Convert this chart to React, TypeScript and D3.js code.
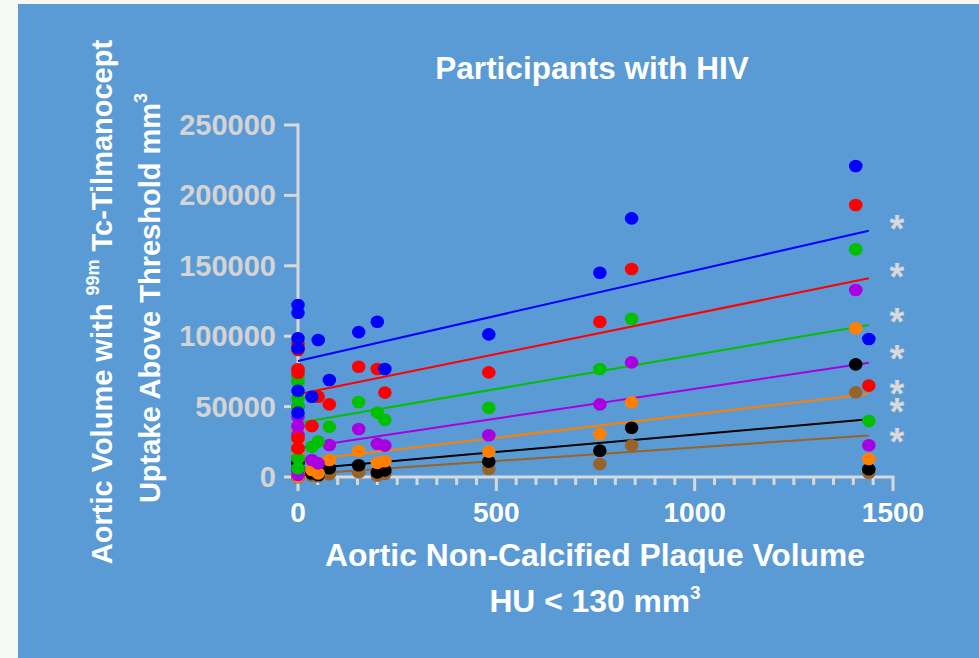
import * as d3 from "d3";
import { useEffect, useRef } from "react";

const width = 979;
const height = 658;

// non-calcified plaque volume (x) for each participant
const plaqueVolume = [0, 0, 0, 0, 0, 0, 35, 51, 79, 153, 200, 219, 481, 761, 841, 1406, 1439];

// uptake volume per threshold level, one value per participant
const blueVals = [122200, 116700, 98500, 91400, 61300, 45700, 57000, 97300, 68900, 102900, 110300, 76700, 101300, 145100, 183700, 220900, 98000];
const redVals = [94500, 90200, 76500, 74000, 27500, 20400, 36200, 57000, 51600, 78300, 76700, 59900, 74300, 110300, 147700, 193200, 64900];
const greenVals = [71700, 68000, 55900, 50000, 13300, 6200, 21500, 25100, 35700, 53300, 45700, 40600, 49200, 76700, 112400, 161700, 39800];
const purpleVals = [50000, 42800, 36000, 30000, 5000, 1400, 12100, 9700, 22700, 34100, 23500, 22300, 29600, 51600, 81400, 132800, 22500];
const orangeVals = [33400, 27000, 20000, 15000, 2000, 0, 5000, 2600, 12100, 18500, 10000, 11200, 18000, 30500, 53000, 105600, 12800];
const blackVals = [20000, 14000, 10000, 6000, 800, 0, 2500, 1400, 6200, 8300, 3300, 4700, 10900, 18700, 35000, 80000, 5500];
const brownVals = [10000, 6000, 4000, 2000, 300, 0, 1000, 500, 2000, 3300, 1000, 2300, 5700, 9200, 22500, 60100, 3000];

const seriesVals = [blueVals, redVals, greenVals, purpleVals, orangeVals, blackVals, brownVals];
const seriesColors = ["#0000ff", "#ff0000", "#00c000", "#a800e0", "#ff8000", "#000000", "#976328"];

// regression lines: value at fitX[0] and at fitX[1]
const fitX = [0, 1439];
const fitStart = [82400, 58700, 38300, 20500, 11300, 5300, 1700];
const fitEnd = [174900, 141100, 108000, 81100, 59000, 41000, 29500];

// significance markers on the right
const asteriskLevels = [180400, 146300, 114300, 88100, 63200, 50400, 29100];

const xTicks = [0, 500, 1000, 1500];
const yTicks = [0, 50000, 100000, 150000, 200000, 250000];

const axisColor = "#d9d9d9";
const font = "'Liberation Sans', Arial, sans-serif";

function App() {
  const ref = useRef<SVGSVGElement>(null);

  useEffect(() => {
    const svg = d3.select(ref.current);
    svg.selectAll("*").remove();

    const x = d3.scaleLinear().domain([0, 1500]).range([298, 893]);
    const y = d3.scaleLinear().domain([0, 250000]).range([477, 125]);

    svg.append("rect").attr("width", width).attr("height", height).attr("fill", "#f7f9f7");
    svg.append("rect").attr("x", 18).attr("y", 4).attr("width", width - 18).attr("height", height - 4).attr("fill", "#5b9bd5");

    // title
    svg
      .append("text")
      .attr("x", 592)
      .attr("y", 79)
      .attr("text-anchor", "middle")
      .style("font-family", font)
      .style("font-weight", "bold")
      .style("font-size", "31.5px")
      .style("fill", "#ffffff")
      .text("Participants with HIV");

    // axes
    const axes = svg.append("g").attr("stroke", axisColor).attr("stroke-width", 3).attr("fill", "none");
    axes.append("line").attr("x1", x(0)).attr("x2", x(0)).attr("y1", y(250000) - 1.5).attr("y2", y(0) + 14);
    axes.append("line").attr("x1", x(0)).attr("x2", x(1500) + 1.5).attr("y1", y(0)).attr("y2", y(0));
    yTicks.forEach((t) => {
      axes.append("line").attr("x1", x(0) - 14).attr("x2", x(0)).attr("y1", y(t)).attr("y2", y(t));
    });
    d3.range(50, 1501, 50).forEach((t) => {
      const major = t % 500 === 0;
      axes.append("line").attr("x1", x(t)).attr("x2", x(t)).attr("y1", y(0)).attr("y2", y(0) + (major ? 14 : 8));
    });

    svg
      .append("g")
      .selectAll("text")
      .data(yTicks)
      .enter()
      .append("text")
      .attr("x", 276)
      .attr("y", (d) => y(d) + 10)
      .attr("text-anchor", "end")
      .style("font-family", font)
      .style("font-weight", "bold")
      .style("font-size", "29px")
      .style("fill", "#d4d4d4")
      .text((d) => d);

    svg
      .append("g")
      .selectAll("text")
      .data(xTicks)
      .enter()
      .append("text")
      .attr("x", (d) => x(d))
      .attr("y", 522)
      .attr("text-anchor", "middle")
      .style("font-family", font)
      .style("font-weight", "bold")
      .style("font-size", "28px")
      .style("fill", "#ffffff")
      .text((d) => d);

    // x title
    const xt = svg
      .append("g")
      .style("font-family", font)
      .style("font-weight", "bold")
      .style("fill", "#ffffff")
      .attr("text-anchor", "middle");
    xt.append("text").attr("x", 595).attr("y", 566).style("font-size", "31.8px").text("Aortic Non-Calcified Plaque Volume");
    const xt2 = xt.append("text").attr("x", 595).attr("y", 612).style("font-size", "31.8px");
    xt2.append("tspan").text("HU < 130 mm");
    xt2.append("tspan").attr("dy", -13).style("font-size", "19px").text("3");

    // y title
    const yt = svg
      .append("g")
      .style("font-family", font)
      .style("font-weight", "bold")
      .style("fill", "#ffffff")
      .attr("text-anchor", "middle");
    const yt1 = yt.append("text").attr("transform", "translate(112,302) rotate(-90)").style("font-size", "29px");
    yt1.append("tspan").text("Aortic Volume with ");
    yt1.append("tspan").attr("dy", -13).style("font-size", "18px").text("99m");
    yt1.append("tspan").attr("dy", 13).text(" Tc-Tilmanocept");
    const yt2 = yt.append("text").attr("transform", "translate(160,298) rotate(-90)").style("font-size", "29px");
    yt2.append("tspan").text("Uptake Above Threshold mm");
    yt2.append("tspan").attr("dy", -13).style("font-size", "18px").text("3");

    // regression lines
    seriesColors.forEach((c, i) => {
      const line = d3
        .line<number>()
        .x((d) => x(d))
        .y((d, j) => y(j === 0 ? fitStart[i] : fitEnd[i]));
      svg.append("path").attr("d", line(fitX)).attr("stroke", c).attr("stroke-width", 2).attr("fill", "none");
    });

    // points, lowest threshold first so blue ends on top
    for (let i = seriesVals.length - 1; i >= 0; i--) {
      svg
        .append("g")
        .selectAll("ellipse")
        .data(seriesVals[i])
        .enter()
        .append("ellipse")
        .attr("cx", (d, j) => x(plaqueVolume[j]))
        .attr("cy", (d) => y(d))
        .attr("rx", 6.8)
        .attr("ry", 6.3)
        .attr("fill", seriesColors[i]);
    }

    // asterisks
    svg
      .append("g")
      .selectAll("text")
      .data(asteriskLevels)
      .enter()
      .append("text")
      .attr("x", 897)
      .attr("y", (d) => y(d) + 19)
      .attr("text-anchor", "middle")
      .style("font-family", font)
      .style("font-weight", "bold")
      .style("font-size", "38px")
      .style("fill", "#d9d9d9")
      .text("*");
  }, []);

  return <svg ref={ref} width={width} height={height} style={{ position: "absolute", left: 0, top: 0 }} />;
}

export default App;
